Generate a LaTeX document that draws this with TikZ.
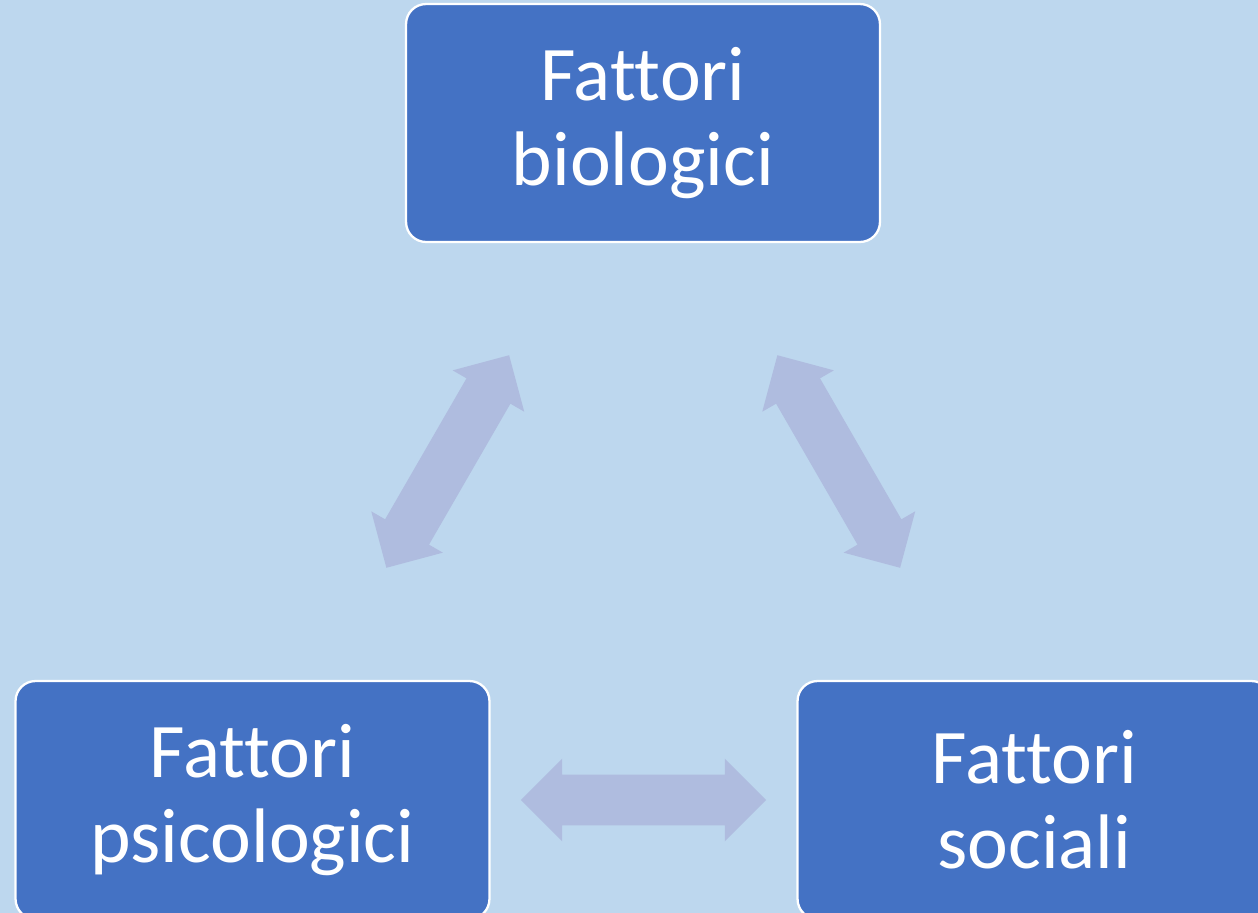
\documentclass[tikz,border=0pt]{standalone}
\usepackage{fontspec}
\setmainfont{Carlito}[Ligatures=NoCommon]
\usetikzlibrary{positioning, calc, shapes.arrows}

\definecolor{bgblue}{HTML}{BDD7EE}
\definecolor{boxblue}{HTML}{4472C4}
\definecolor{arrowblue}{HTML}{AFBCDF}

\begin{document}
\begin{tikzpicture}[x=0.02cm, y=-0.02cm,
    factor/.style={draw=white, line width=1.3pt, fill=boxblue, rounded corners=0.4cm,
        minimum width=9.48cm, minimum height=4.76cm, inner sep=0pt,
        align=center, text=white, font=\fontsize{44}{48.5}\selectfont},
    link/.style={double arrow, fill=arrowblue, draw=none, inner xsep=0pt, inner ysep=0.5cm,
        minimum height=4.91cm, minimum width=1.64cm, double arrow head extend=0.32cm}]
    % Background
    \useasboundingbox (0,0) rectangle (1258,913);
    \fill[bgblue] (0,0) rectangle (1258,913);
    \clip (0,0) rectangle (1258,913);

    % Draw the three factors
    \node[factor] (bio) at (643,123) {Fattori\\biologici};
    \node[factor] (psi) at (252.5,800) {Fattori\\psicologici};
    \node[factor] (soc) at (1034.5,800) {Fattori\\sociali};

    % Double arrows between factors
    \node[link, rotate=60] (biopsi) at ($(bio)!0.5!(psi)$) {};
    \node[link, rotate=-60] (biosoc) at ($(bio)!0.5!(soc)$) {};
    \node[link] (psisoc) at ($(psi)!0.5!(soc)$) {};
\end{tikzpicture}
\end{document}
